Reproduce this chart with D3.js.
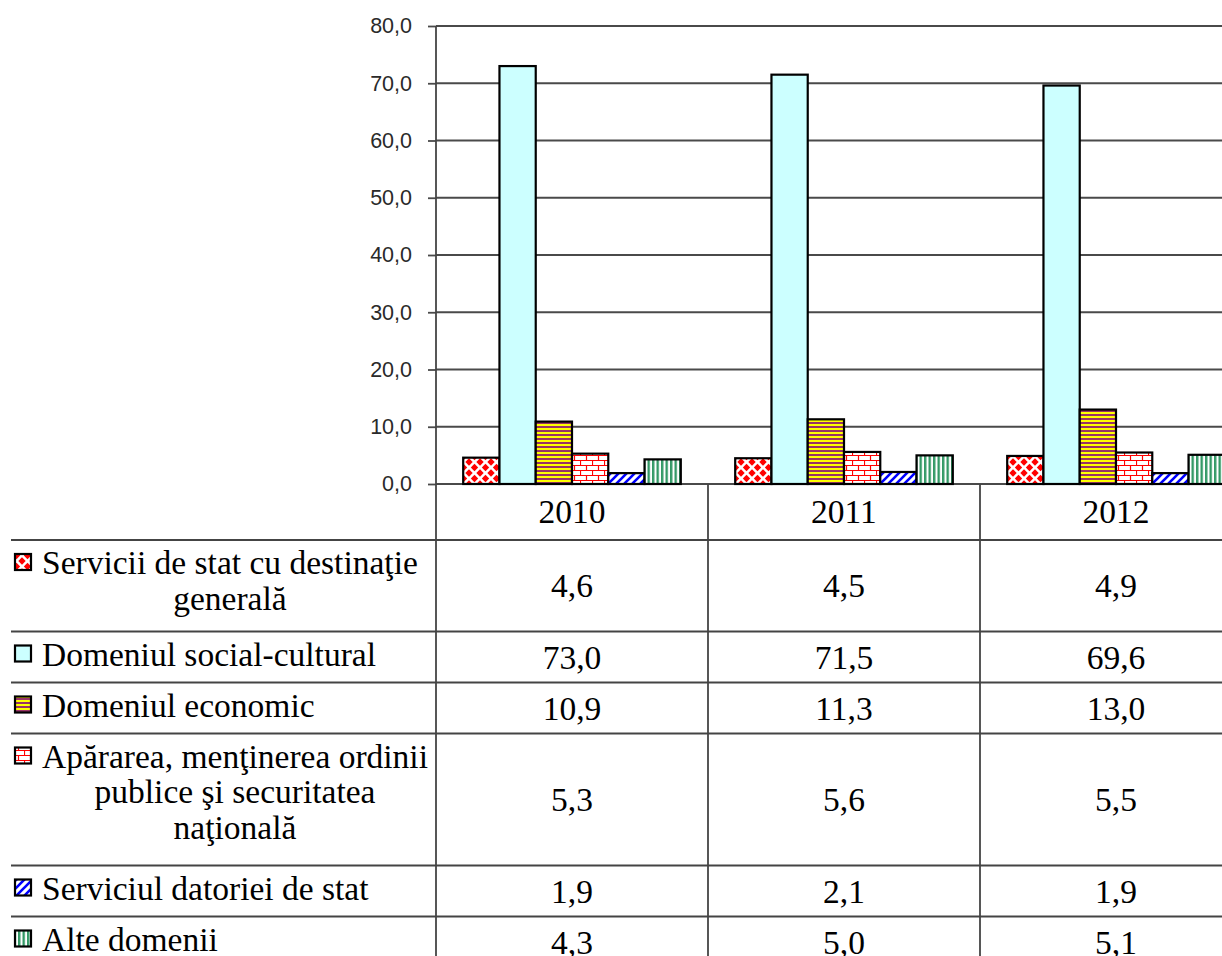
<!DOCTYPE html>
<html>
<head>
<meta charset="utf-8">
<script src="https://cdn.jsdelivr.net/npm/d3@7"></script>
<style>
  body { margin: 0; background: #fff; }
  svg { display: block; }
</style>
</head>
<body>
<script>
// Datele graficului
var years = ["2010", "2011", "2012"];
var seriesLabels = [
  ["Servicii de stat cu destinaţie", "generală"],
  ["Domeniul social-cultural"],
  ["Domeniul economic"],
  ["Apărarea, menţinerea ordinii", "publice şi securitatea", "naţională"],
  ["Serviciul datoriei de stat"],
  ["Alte domenii"]
];
var servicii = [4.6, 4.5, 4.9];
var social = [73.0, 71.5, 69.6];
var economic = [10.9, 11.3, 13.0];
var aparare = [5.3, 5.6, 5.5];
var datorie = [1.9, 2.1, 1.9];
var alte = [4.3, 5.0, 5.1];
var yTicks = [0, 10, 20, 30, 40, 50, 60, 70, 80];

var seriesValues = [servicii, social, economic, aparare, datorie, alte];
var fills = ["url(#pDiamond)", "#CCFFFF", "url(#pStripe)", "url(#pBrick)", "url(#pDiag)", "url(#pVert)"];

draw();

function draw() {
var W = 1222, H = 956;
var plotLeft = 436, plotTop = 26, plotBottom = 484;
var catWidth = 272;
var fmt = function(v) { return d3.format(".1f")(v).replace(".", ","); };

var svg = d3.select("body").append("svg")
  .attr("width", W)
  .attr("height", H);

// Modele (hasuri) pentru bare
var defs = svg.append("defs");

var p = defs.append("pattern").attr("id", "pDiamond").attr("patternUnits", "userSpaceOnUse")
  .attr("width", 11).attr("height", 11);
p.append("rect").attr("width", 11).attr("height", 11).attr("fill", "#fff");
[[0, 0], [11, 0], [0, 11], [11, 11], [5.5, 5.5]].forEach(function(c) {
  var r = 3.7;
  p.append("polygon").attr("fill", "#FF0000")
    .attr("points", [[c[0], c[1] - r], [c[0] + r, c[1]], [c[0], c[1] + r], [c[0] - r, c[1]]].join(" "));
});

p = defs.append("pattern").attr("id", "pStripe").attr("patternUnits", "userSpaceOnUse")
  .attr("width", 8).attr("height", 4);
p.append("rect").attr("width", 8).attr("height", 2).attr("fill", "#FFFF00");
p.append("rect").attr("y", 2).attr("width", 8).attr("height", 2).attr("fill", "#993366");

p = defs.append("pattern").attr("id", "pBrick").attr("patternUnits", "userSpaceOnUse")
  .attr("width", 12).attr("height", 10);
p.append("rect").attr("width", 12).attr("height", 10).attr("fill", "#fff");
p.append("path").attr("stroke", "#FF0000").attr("stroke-width", 1.2).attr("fill", "none")
  .attr("d", "M0,0.5H12M0,5.5H12M0.5,0V5.5M6.5,5.5V10");

p = defs.append("pattern").attr("id", "pDiag").attr("patternUnits", "userSpaceOnUse")
  .attr("width", 8).attr("height", 8);
p.append("rect").attr("width", 8).attr("height", 8).attr("fill", "#fff");
p.append("path").attr("stroke", "#0000FF").attr("stroke-width", 2.6)
  .attr("d", "M-2,10L10,-2M-2,2L2,-2M6,10L10,6");

p = defs.append("pattern").attr("id", "pVert").attr("patternUnits", "userSpaceOnUse")
  .attr("width", 4.5).attr("height", 8);
p.append("rect").attr("width", 4.5).attr("height", 8).attr("fill", "#fff");
p.append("rect").attr("width", 2.4).attr("height", 8).attr("fill", "#339966");

// Scale
var x0 = d3.scaleBand().domain(years).range([plotLeft, plotLeft + catWidth * years.length]);
var barW = x0.bandwidth() / 7.5;
var x1 = d3.scaleBand().domain(d3.range(seriesValues.length))
  .range([barW * 0.75, x0.bandwidth() - barW * 0.75]);
var y = d3.scaleLinear().domain([0, 80]).range([plotBottom, plotTop]);

// Linii de grila
svg.append("g").selectAll("line").data(yTicks).enter().append("line")
  .attr("x1", plotLeft).attr("x2", x0.range()[1])
  .attr("y1", function(d) { return y(d); }).attr("y2", function(d) { return y(d); })
  .attr("stroke", "#4a4a4a").attr("stroke-width", 1.8);

// Axa Y
var yAxis = svg.append("g").attr("transform", "translate(" + plotLeft + ",0)")
  .call(d3.axisLeft(y).tickValues(yTicks).tickSize(8).tickSizeOuter(0).tickPadding(16).tickFormat(fmt));
yAxis.select(".domain").remove();
yAxis.selectAll(".tick line").attr("stroke", "#4a4a4a").attr("stroke-width", 1.8);
yAxis.selectAll("text").attr("font-family", "'Liberation Sans', Arial, sans-serif")
  .attr("font-size", 21.5).attr("fill", "#2a2a2a");

// Bare
var groups = svg.append("g").selectAll("g").data(years).enter().append("g")
  .attr("transform", function(d) { return "translate(" + x0(d) + ",0)"; });
groups.selectAll("rect")
  .data(function(d, i) { return seriesValues.map(function(s, k) { return { k: k, v: s[i] }; }); })
  .enter().append("rect")
  .attr("x", function(d) { return x1(d.k); })
  .attr("width", x1.bandwidth())
  .attr("y", function(d) { return y(d.v); })
  .attr("height", function(d) { return plotBottom - y(d.v); })
  .attr("fill", function(d) { return fills[d.k]; })
  .attr("stroke", "#000").attr("stroke-width", 2.2);

// Tabelul de date
var serif = "'Liberation Serif', 'Times New Roman', serif";
var lineColor = "#444";
var tableTop = 540;
var rows = [];
var yy = tableTop;
seriesLabels.forEach(function(lbl, i) {
  var h = 51 + (lbl.length - 1) * 40.5;
  rows.push({ top: yy, h: h, lines: lbl, k: i });
  yy += h;
});

var table = svg.append("g");

// randul cu anii
table.selectAll("text.year").data(years).enter().append("text")
  .attr("class", "year")
  .attr("x", function(d) { return x0(d) + x0.bandwidth() / 2; })
  .attr("y", (plotBottom + tableTop) / 2 + 11)
  .attr("text-anchor", "middle")
  .attr("font-family", serif).attr("font-size", 33.5)
  .text(function(d) { return d; });

// linii orizontale
table.selectAll("line.h").data([tableTop].concat(rows.map(function(r) { return r.top + r.h; })))
  .enter().append("line")
  .attr("x1", 11).attr("x2", x0.range()[1])
  .attr("y1", function(d) { return d; }).attr("y2", function(d) { return d; })
  .attr("stroke", lineColor).attr("stroke-width", 1.8);

// linii verticale
table.selectAll("line.v").data(x0.domain().map(function(d) { return x0(d); }).concat([x0.range()[1]]))
  .enter().append("line")
  .attr("x1", function(d) { return d; }).attr("x2", function(d) { return d; })
  .attr("y1", function(d) { return d === plotLeft ? plotTop : plotBottom; }).attr("y2", H)
  .attr("stroke", lineColor).attr("stroke-width", 1.8);

var rowG = table.selectAll("g.row").data(rows).enter().append("g").attr("class", "row");

// cheia legendei
rowG.append("rect")
  .attr("x", 15).attr("y", function(d) { return d.top + 14; })
  .attr("width", 16).attr("height", 16)
  .attr("fill", function(d) { return fills[d.k]; })
  .attr("stroke", "#000").attr("stroke-width", 2.2);

// textul legendei
rowG.each(function(r) {
  var g = d3.select(this);
  var t = g.append("text").attr("font-family", serif).attr("font-size", 33.5);
  var tsp = t.selectAll("tspan").data(r.lines).enter().append("tspan")
    .attr("y", function(d, i) { return r.top + 34 + i * 35.5; })
    .text(function(d) { return d; });
  var maxW = 0;
  tsp.each(function() { maxW = Math.max(maxW, this.getComputedTextLength()); });
  tsp.attr("x", 42 + maxW / 2).attr("text-anchor", "middle");
});

// valorile
rowG.selectAll("text.val")
  .data(function(r) { return years.map(function(yr, i) { return { yr: yr, v: seriesValues[r.k][i], r: r }; }); })
  .enter().append("text").attr("class", "val")
  .attr("x", function(d) { return x0(d.yr) + x0.bandwidth() / 2; })
  .attr("y", function(d) { return d.r.top + d.r.h / 2 + 11.5; })
  .attr("text-anchor", "middle")
  .attr("font-family", serif).attr("font-size", 33.5)
  .text(function(d) { return fmt(d.v); });
}
</script>
</body>
</html>
